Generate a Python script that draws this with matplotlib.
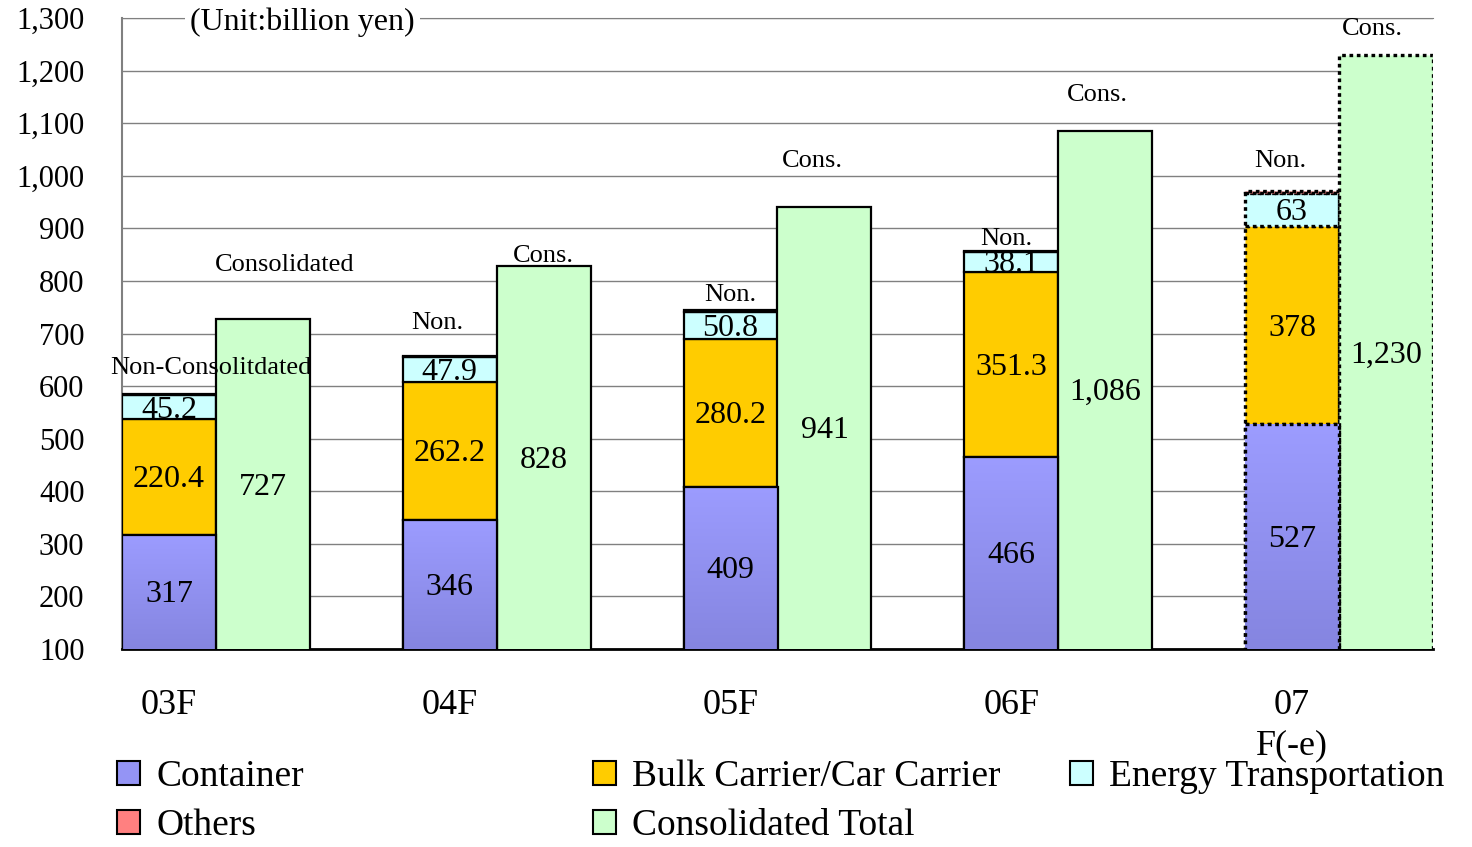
import matplotlib
matplotlib.use("Agg")
import matplotlib.pyplot as plt
import numpy as np
from matplotlib.patches import Patch
from matplotlib.colors import LinearSegmentedColormap
from matplotlib.ticker import FuncFormatter
from matplotlib.transforms import offset_copy

plt.rcParams["font.family"] = ["Liberation Serif", "DejaVu Serif"]

# data (billion yen)
years = ["03F", "04F", "05F", "06F", "07\nF(-e)"]
container = [317, 346, 409, 466, 527]
bulk_car = [220.4, 262.2, 280.2, 351.3, 378]
energy = [45.2, 47.9, 50.8, 38.1, 63]
others = [3, 1, 4, 1.5, 3]
consolidated = [727, 828, 941, 1086, 1230]

non_labels = ["Non-Consolitdated", "Non.", "Non.", "Non.", "Non."]
cons_labels = ["Consolidated", "Cons.", "Cons.", "Cons.", "Cons."]

# label placement tweaks, in pixels from bar top centre
non_off = [(42, 26), (-12, 33), (0, 15), (-5, 12), (-12, 30)]
cons_off = [(22, 54), (0, 10), (-12, 46), (-8, 36), (-14, 26)]

C_CONT = "#9494F5"
C_BULK = "#FFCC00"
C_ENERGY = "#CCFFFF"
C_OTHERS = "#FF8080"
C_CONS = "#CCFFCC"

YMIN, YMAX = 100, 1300
w = 0.3345
x = np.arange(len(years))
dotted = (0, (1.1, 1.1))
LW = 1.6
LW_DOT = 2.4

fig = plt.figure(figsize=(14.72, 8.47), dpi=100)
ax = fig.add_axes([122 / 1472, 1 - 649 / 847, 1311 / 1472, 631 / 847])


def forecast_style(bars):
    bars[-1].set_linestyle(dotted)
    bars[-1].set_linewidth(LW_DOT)


# non-consolidated stack
bottom = np.zeros(len(x))
stacks = []
for vals, color in [(container, C_CONT), (bulk_car, C_BULK),
                    (energy, C_ENERGY), (others, C_OTHERS)]:
    bars = ax.bar(x, vals, w, bottom=bottom, color=color, edgecolor="black",
                  linewidth=LW, zorder=3)
    forecast_style(bars)
    stacks.append((bars, np.array(bottom), np.array(vals, dtype=float)))
    bottom = bottom + np.array(vals)

# gradient on the container bars
cmap = LinearSegmentedColormap.from_list("cont", ["#8585E0", "#9C9CFF"])
grad = np.linspace(0, 1, 256).reshape(-1, 1)
for b in stacks[0][0]:
    x0 = b.get_x()
    top = b.get_y() + b.get_height()
    im = ax.imshow(grad, extent=[x0, x0 + w, YMIN, top], origin="lower",
                   cmap=cmap, aspect="auto", zorder=3.2)
    im.set_clip_path(b)
outl = ax.bar(x, container, w, fill=False, edgecolor="black", linewidth=LW,
              zorder=3.4)
forecast_style(outl)

# consolidated totals
cbars = ax.bar(x + w, consolidated, w, color=C_CONS, edgecolor="black",
               linewidth=LW, zorder=3)
forecast_style(cbars)

# value labels sit a few pixels low, like the original
low = offset_copy(ax.transData, fig=fig, x=0, y=-3, units="dots")
for k, (bars, bot, vals) in enumerate(stacks[:3]):
    for i in range(len(x)):
        lo = max(bot[i], YMIN)
        hi = bot[i] + vals[i]
        ax.text(x[i], (lo + hi) / 2, f"{vals[i]:g}", ha="center", va="center",
                fontsize=23, zorder=6, transform=low)
for i in range(len(x)):
    ax.text(x[i] + w, (YMIN + consolidated[i]) / 2, f"{consolidated[i]:,}",
            ha="center", va="center", fontsize=23, zorder=6, transform=low)

# Non. / Cons. labels
for i in range(len(x)):
    ax.annotate(non_labels[i], (x[i], bottom[i]), xytext=non_off[i],
                textcoords="offset pixels", ha="center", va="center",
                fontsize=19, zorder=6)
    ax.annotate(cons_labels[i], (x[i] + w, consolidated[i]), xytext=cons_off[i],
                textcoords="offset pixels", ha="center", va="center",
                fontsize=19, zorder=6)

ax.set_xlim(-w / 2, x[-1] + 1.5 * w)
ax.set_ylim(YMIN, YMAX)
ax.set_yticks(np.arange(YMIN, YMAX + 1, 100))
ax.yaxis.set_major_formatter(FuncFormatter(lambda v, p: f"{int(v):,}"))
ax.set_xticks(x)
ax.set_xticklabels(years)
for t in ax.get_xticklabels():
    t.set_linespacing(1.3)
ax.tick_params(axis="y", length=0, pad=27, labelsize=22)
ax.tick_params(axis="x", length=0, pad=29, labelsize=26)

ax.yaxis.grid(True, color="#808080", linewidth=1)
ax.set_axisbelow(True)
ax.spines["right"].set_visible(False)
ax.spines["top"].set_color("#808080")
ax.spines["left"].set_color("#808080")
ax.spines["left"].set_linewidth(1.5)
ax.spines["bottom"].set_linewidth(2)

unit_tr = offset_copy(ax.transAxes, fig=fig, x=0, y=-4, units="dots")
ax.text(0.052, 1.0, "(Unit:billion yen)", transform=unit_tr, ha="left",
        va="center", fontsize=23, zorder=7, clip_on=False,
        bbox=dict(facecolor="white", edgecolor="none", pad=4))

# legend laid out in three fixed columns
def patch(c, name):
    return Patch(facecolor=c, edgecolor="black", linewidth=1.5, label=name)

cols = [
    ([patch(C_CONT, "Container"), patch(C_OTHERS, "Others")], 117),
    ([patch(C_BULK, "Bulk Carrier/Car Carrier"),
      patch(C_CONS, "Consolidated Total")], 593),
    ([patch(C_ENERGY, "Energy Transportation")], 1070),
]
for handles, px in cols:
    fig.legend(handles=handles, loc="upper left",
               bbox_to_anchor=(px / 1472, 1 - 760 / 847), frameon=False,
               fontsize=27, handlelength=0.6, handleheight=0.6,
               handletextpad=0.45, labelspacing=0.38, borderpad=0,
               borderaxespad=0)

fig.savefig("out.png", dpi=100)
